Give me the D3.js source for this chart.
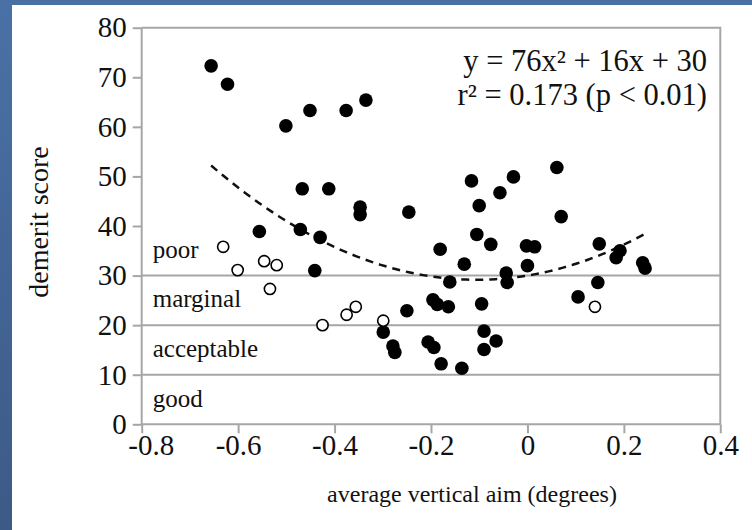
<!DOCTYPE html>
<html>
<head>
<meta charset="utf-8">
<script src="https://cdn.jsdelivr.net/npm/d3@7"></script>
<style>
    html, body {margin: 0; padding: 0; background: #fff;}
    svg {display: block;}
    text {font-family: "Liberation Serif", "Times New Roman", serif; fill: #111;}
</style>
</head>
<body>
<svg id="chart"></svg>
<script>
// filled markers: [average vertical aim, demerit score]
const filledX = [-0.656, -0.622, -0.501, -0.451, -0.376, -0.335, -0.467, -0.412, -0.347, -0.347,
    -0.246, -0.556, -0.471, -0.430, -0.441, -0.299, -0.279, -0.275, -0.250, -0.206,
    -0.194, -0.179, -0.196, -0.187, -0.164, -0.181, -0.161, -0.136, -0.131, -0.116,
    -0.100, -0.105, -0.076, -0.057, -0.029, -0.095, -0.090, -0.065, -0.090, -0.044,
    -0.042, -0.002, 0.015, 0.000, 0.061, 0.070, 0.105, 0.146, 0.149, 0.192,
    0.184, 0.239, 0.244];
const filledY = [72.3, 68.6, 60.2, 63.3, 63.3, 65.4, 47.5, 47.5, 43.8, 42.3,
    42.8, 38.9, 39.3, 37.7, 31.0, 18.6, 15.8, 14.5, 22.9, 16.6,
    15.5, 12.2, 25.1, 24.2, 23.7, 35.3, 28.7, 11.3, 32.3, 49.1,
    44.1, 38.3, 36.3, 46.7, 49.9, 24.3, 18.8, 16.8, 15.1, 30.5,
    28.6, 36.0, 35.8, 32.0, 51.8, 41.9, 25.7, 28.6, 36.4, 35.0,
    33.6, 32.6, 31.5];

// open markers
const openX = [-0.631, -0.601, -0.546, -0.520, -0.534, -0.425, -0.375, -0.356, -0.299, 0.140];
const openY = [35.8, 31.1, 32.9, 32.1, 27.3, 20.0, 22.1, 23.7, 20.9, 23.7];

const xTicks = [-0.8, -0.6, -0.4, -0.2, 0, 0.2, 0.4];
const yTicks = [0, 10, 20, 30, 40, 50, 60, 70, 80];
const bandLines = [10, 20, 30];
const bandLabels = ['good', 'acceptable', 'marginal', 'poor'];
const bandMid = [5, 15, 25, 35];

// quadratic fit shown in the chart
const fitCoef = [76, 16, 30];
const fitRange = [-0.656, 0.244];
const fitText = ['y = 76x\u00b2 + 16x + 30', 'r\u00b2 = 0.173 (p < 0.01)'];

const width = 752, height = 530;
const margin = {left: 141.7, right: 752 - 720.3, top: 27.7, bottom: 530 - 424.3};
const gray = '#a6a6a6';

const svg = d3.select('#chart').attr('width', width).attr('height', height);

// slide background strips
const defs = svg.append('defs');
const grad = defs.append('linearGradient').attr('id', 'side')
    .attr('x1', 0).attr('y1', 0).attr('x2', 0).attr('y2', 1);
grad.append('stop').attr('offset', '0%').attr('stop-color', '#4a71a6');
grad.append('stop').attr('offset', '100%').attr('stop-color', '#3c5a86');
svg.append('rect').attr('x', 0).attr('y', 0).attr('width', width).attr('height', 5).attr('fill', '#4a6fa3');
svg.append('rect').attr('x', 0).attr('y', 0).attr('width', 12).attr('height', height).attr('fill', 'url(#side)');

const x = d3.scaleLinear().domain([-0.8, 0.4]).range([margin.left, width - margin.right]);
const y = d3.scaleLinear().domain([0, 80]).range([height - margin.bottom, margin.top]);

// band boundaries
svg.append('g')
    .selectAll('line')
    .data(bandLines)
    .enter()
    .append('line')
    .attr('x1', x(-0.8)).attr('x2', x(0.4))
    .attr('y1', d => y(d)).attr('y2', d => y(d))
    .attr('stroke', gray).attr('stroke-width', 2);

// frame top + right
svg.append('path')
    .attr('d', `M${x(-0.8)},${y(80)}H${x(0.4)}V${y(0)}`)
    .attr('fill', 'none').attr('stroke', gray).attr('stroke-width', 2);

// axes
const xAxis = svg.append('g')
    .attr('transform', `translate(0,${y(0)})`)
    .call(d3.axisBottom(x).tickValues(xTicks).tickSize(9).tickPadding(1)
        .tickFormat(d => d === 0 ? '0' : d3.format('.1f')(d).replace('\u2212', '-')));

const yAxis = svg.append('g')
    .attr('transform', `translate(${x(-0.8)},0)`)
    .call(d3.axisLeft(y).tickValues(yTicks).tickSize(9).tickPadding(6));

[xAxis, yAxis].forEach(g => {
    g.select('.domain').attr('stroke', gray).attr('stroke-width', 2);
    g.selectAll('.tick line').attr('stroke', gray).attr('stroke-width', 2);
    g.selectAll('.tick text')
        .attr('font-family', '"Liberation Serif", serif')
        .attr('font-size', 29).attr('fill', '#111');
});
yAxis.select('.domain').attr('d', `M0,${y(80)}V${y(0)}`);
xAxis.select('.domain').attr('d', `M${x(-0.8)},0H${x(0.4)}`);
// nudge the first x label so it clears the "0" y label
xAxis.selectAll('.tick text').filter(d => d === -0.8).attr('dx', 9);

// band labels
svg.append('g')
    .selectAll('text')
    .data(bandLabels)
    .enter()
    .append('text')
    .attr('x', x(-0.8) + 11)
    .attr('y', (d, i) => y(bandMid[i]) + 7)
    .attr('font-size', 25)
    .text(d => d);

// fitted curve
const fitPts = d3.range(fitRange[0], fitRange[1] + 0.001, 0.01)
    .map(v => [v, fitCoef[0] * v * v + fitCoef[1] * v + fitCoef[2]]);
svg.append('path')
    .datum(fitPts)
    .attr('d', d3.line().x(d => x(d[0])).y(d => y(d[1])))
    .attr('fill', 'none')
    .attr('stroke', '#111')
    .attr('stroke-width', 2.5)
    .attr('stroke-dasharray', '8,6');

// points
svg.append('g')
    .selectAll('circle')
    .data(filledX)
    .enter()
    .append('circle')
    .attr('cx', d => x(d))
    .attr('cy', (d, i) => y(filledY[i]))
    .attr('r', 6.8)
    .attr('fill', '#000');

svg.append('g')
    .selectAll('circle')
    .data(openX)
    .enter()
    .append('circle')
    .attr('cx', d => x(d))
    .attr('cy', (d, i) => y(openY[i]))
    .attr('r', 5.6)
    .attr('fill', '#fff')
    .attr('stroke', '#000')
    .attr('stroke-width', 1.6);

// equation
svg.append('g')
    .selectAll('text')
    .data(fitText)
    .enter()
    .append('text')
    .attr('x', 707)
    .attr('y', (d, i) => 70.5 + i * 34)
    .attr('text-anchor', 'end')
    .attr('font-size', 30.5)
    .text(d => d);

// axis titles
svg.append('text')
    .attr('x', 472)
    .attr('y', 502)
    .attr('text-anchor', 'middle')
    .attr('font-size', 24)
    .text('average vertical aim (degrees)');

svg.append('text')
    .attr('transform', 'translate(48,222) rotate(-90)')
    .attr('text-anchor', 'middle')
    .attr('font-size', 28)
    .text('demerit score');
</script>
</body>
</html>
